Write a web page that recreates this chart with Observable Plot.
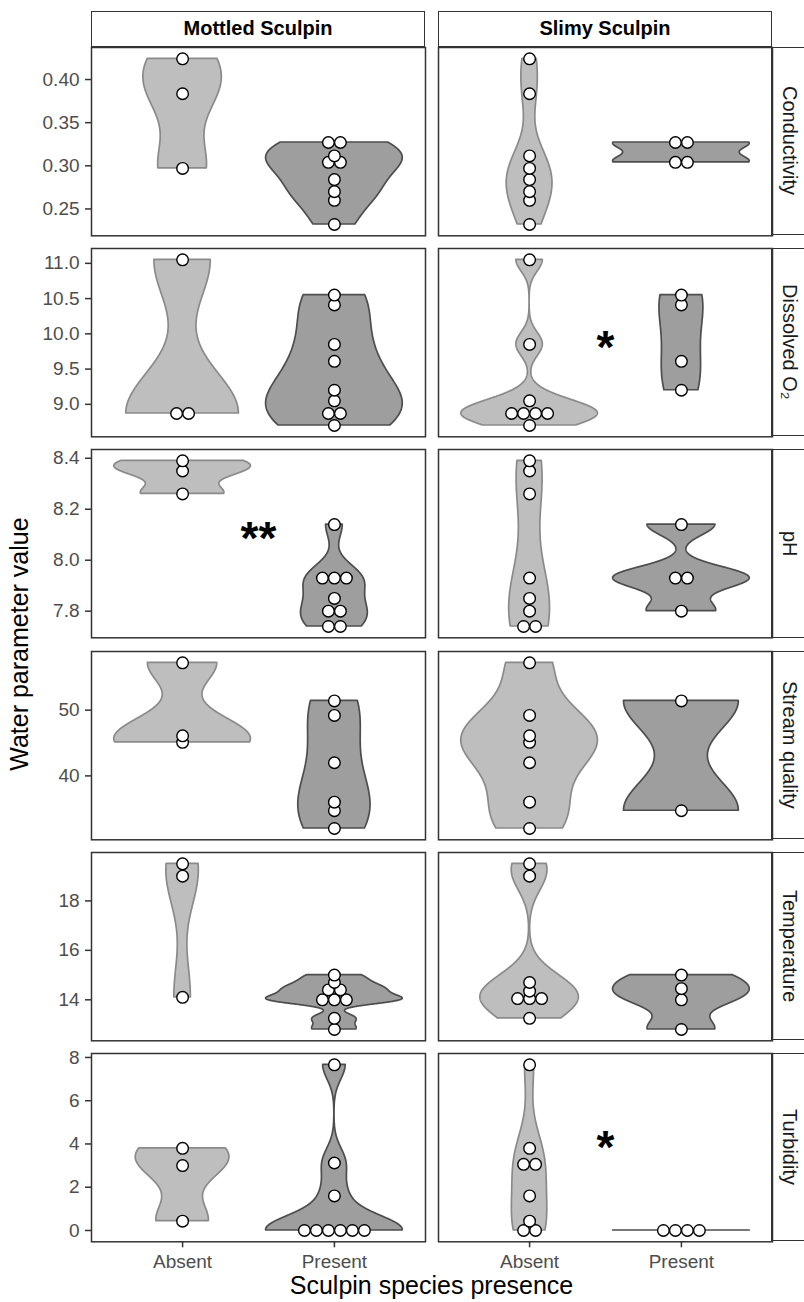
<!DOCTYPE html>
<html>
<head>
<meta charset="utf-8">
<script src="https://cdn.jsdelivr.net/npm/d3@7"></script>
<script src="https://cdn.jsdelivr.net/npm/@observablehq/plot@0.6"></script>
<style>
  body { margin: 0; background: #fff; }
  #fig { position: relative; width: 804px; height: 1302px; overflow: hidden; background: #fff;
         font-family: "Liberation Sans", Arial, Helvetica, sans-serif; }
  .strip-top { position: absolute; box-sizing: border-box; border: 1.5px solid #333; background: #fff;
               display: flex; align-items: center; justify-content: center;
               font-weight: bold; font-size: 20px; color: #000; }
  .strip-right { position: absolute; box-sizing: border-box; border: 1.5px solid #333; background: #fff;
                 display: flex; align-items: center; justify-content: center;
                 writing-mode: vertical-rl; font-size: 20px; color: #1a1a1a; }
  .panel { position: absolute; }
</style>
</head>
<body>
<div id="fig"></div>
<script>
// ---------------- data ----------------
const species = ["Mottled Sculpin", "Slimy Sculpin"];
const presence = ["Absent", "Present"];
const parameters = ["Conductivity", "Dissolved O₂", "pH", "Stream quality", "Temperature", "Turbidity"];

// presence of each sculpin species at the 12 sampled sites
const mottledPresence = ["Absent","Absent","Absent","Present","Present","Present","Present","Present","Present","Present","Present","Present"];
const slimyPresence   = ["Absent","Absent","Absent","Present","Present","Present","Present","Absent","Absent","Absent","Absent","Absent"];

// water parameter values per site
const conductivity  = [0.424, 0.3835, 0.297, 0.327, 0.327, 0.304, 0.304, 0.3115, 0.284, 0.270, 0.260, 0.232];
const dissolvedO2   = [11.05, 8.87, 8.87, 10.55, 10.41, 9.61, 9.20, 9.85, 9.05, 8.87, 8.87, 8.70];
const pH            = [8.39, 8.35, 8.26, 8.14, 7.93, 7.93, 7.80, 7.93, 7.85, 7.80, 7.74, 7.74];
const streamQuality = [57.2, 46.1, 45.1, 51.4, 34.7, null, null, 49.2, 42.0, 36.0, 32.0, null];
const temperature   = [19.5, 19.0, 14.1, 15.0, 14.45, 14.0, 12.8, 14.7, 14.35, 14.0, 14.0, 13.25];
const turbidity     = [3.8, 3.0, 0.43, 0, 0, 0, 0, 7.66, 3.12, 1.6, 0, 0];

// y tick values per parameter
const conductivityTicks  = [0.25, 0.30, 0.35, 0.40];
const dissolvedO2Ticks   = [9.0, 9.5, 10.0, 10.5, 11.0];
const pHTicks            = [7.8, 8.0, 8.2, 8.4];
const streamQualityTicks = [40, 50];
const temperatureTicks   = [14, 16, 18];
const turbidityTicks     = [0, 2, 4, 6, 8];
const tickFormats = [".2f", ".1f", ".1f", "d", "d", "d"];

// significance annotations
const sigSpecies   = ["Slimy Sculpin", "Mottled Sculpin", "Slimy Sculpin"];
const sigParameter = ["Dissolved O₂", "pH", "Turbidity"];
const sigLabel     = ["*", "**", "*"];
const sigValue     = [9.97, 8.13, 4.37];

const xTitle = "Sculpin species presence";
const yTitle = "Water parameter value";

// ---------------- layout ----------------
const panelLeft = [91, 438];
const panelW = 334;
const panelTop0 = 46.7;
const panelH = 188.3;
const gap = 13;
const stripTop = 10.5;
const stripRightW = 36;
const dotSpacingPx = 12;

const rowValues = [conductivity, dissolvedO2, pH, streamQuality, temperature, turbidity];
const rowTicks = [conductivityTicks, dissolvedO2Ticks, pHTicks, streamQualityTicks, temperatureTicks, turbidityTicks];
const presenceBySpecies = [mottledPresence, slimyPresence];

const fig = document.getElementById("fig");

// ---------------- helpers ----------------
function nrd0(x) {
  const hi = d3.deviation(x) || 0;
  let lo = Math.min(hi, (d3.quantile(x, 0.75) - d3.quantile(x, 0.25)) / 1.34);
  if (!lo) lo = hi || Math.abs(x[0]) || 1;
  return 0.9 * lo * Math.pow(x.length, -0.2);
}
function kde(x, n = 512) {
  const bw = nrd0(x);
  const lo = d3.min(x), hi = d3.max(x);
  const out = [];
  for (let j = 0; j < n; j++) {
    const y = lo + (hi - lo) * j / (n - 1);
    let s = 0;
    for (const v of x) { const u = (y - v) / bw; s += Math.exp(-0.5 * u * u); }
    out.push({y, density: s / (x.length * bw * Math.sqrt(2 * Math.PI))});
  }
  return out;
}
function dotBins(vals, bw) {
  const s = vals.slice().sort((a, b) => a - b);
  const bins = [];
  let i = 0;
  while (i < s.length) {
    const end = s[i] + bw;
    const m = [];
    while (i < s.length && s[i] < end) { m.push(s[i]); i++; }
    bins.push({center: (m[0] + m[m.length - 1]) / 2, n: m.length});
  }
  return bins;
}

// ---------------- strips ----------------
species.forEach((sp, c) => {
  const d = document.createElement("div");
  d.className = "strip-top";
  d.style.left = panelLeft[c] + "px";
  d.style.top = stripTop + "px";
  d.style.width = panelW + "px";
  d.style.height = (panelTop0 - stripTop + 0.75) + "px";
  d.textContent = sp;
  fig.appendChild(d);
});

// ---------------- panels ----------------
parameters.forEach((param, r) => {
  const vals = rowValues[r];
  const valid = vals.filter(v => v != null);
  const range = d3.max(valid) - d3.min(valid);
  const bw = range / 30;
  const top = panelTop0 + r * (panelH + gap);
  const isBottom = r === parameters.length - 1;

  const groups = species.map((sp, c) => presence.map((p, k) => {
    const g = vals.filter((v, i) => v != null && presenceBySpecies[c][i] === p);
    return {species: sp, presence: p, x: k + 1, values: g, bins: dotBins(g, bw)};
  }));

  let lo = Infinity, hi = -Infinity;
  groups.flat().forEach(g => g.bins.forEach(b => {
    lo = Math.min(lo, b.center - bw / 2);
    hi = Math.max(hi, b.center + bw / 2);
  }));
  const ex = (hi - lo) * 0.05;
  const yDomain = [lo - ex, hi + ex];

  const rs = document.createElement("div");
  rs.className = "strip-right";
  rs.style.left = (panelLeft[1] + panelW - 0.75) + "px";
  rs.style.top = top + "px";
  rs.style.width = stripRightW + "px";
  rs.style.height = panelH + "px";
  rs.textContent = param;
  fig.appendChild(rs);

  species.forEach((sp, c) => {
    const isLeft = c === 0;
    const pg = groups[c];
    const dens = pg.map(g => kde(g.values));
    const maxD = d3.max(dens.flat(), d => d.density);
    const violins = pg.map((g, k) => dens[k].map(d => ({
      presence: g.presence, y: d.y,
      x1: g.x - 0.45 * d.density / maxD,
      x2: g.x + 0.45 * d.density / maxD
    })));
    const unit = dotSpacingPx / (panelW / 2.2);
    const dots = [];
    pg.forEach(g => g.bins.forEach(b => {
      for (let i = 0; i < b.n; i++) dots.push({presence: g.presence, x: g.x + (i - (b.n - 1) / 2) * unit, y: b.center});
    }));
    const sig = sigLabel.map((l, i) => ({label: l, species: sigSpecies[i], parameter: sigParameter[i], value: sigValue[i]}))
      .filter(d => d.species === sp && d.parameter === param);

    const mb = isBottom ? 62 : 0;
    const ml = isLeft ? panelLeft[0] : 0;
    const plot = Plot.plot({
      width: ml + panelW,
      height: panelH + mb,
      marginLeft: ml, marginRight: 0, marginTop: 0, marginBottom: mb,
      style: {fontFamily: '"Liberation Sans", Arial, Helvetica, sans-serif', overflow: "visible", background: "transparent"},
      x: {domain: [0.4, 2.6], ...(isBottom ? {} : {axis: null})},
      y: {domain: yDomain, ...(isLeft ? {} : {axis: null})},
      marks: [
        Plot.areaX(violins[0], {y: "y", x1: "x1", x2: "x2", fill: "#bebebe", stroke: "#8a8a8a", strokeWidth: 1.7, strokeLinejoin: "round"}),
        Plot.areaX(violins[1], {y: "y", x1: "x1", x2: "x2", fill: "#9e9e9e", stroke: "#4d4d4d", strokeWidth: 1.7, strokeLinejoin: "round"}),
        Plot.dot(dots, {x: "x", y: "y", r: 5.8, fill: "white", stroke: "black", strokeWidth: 1.4}),
        Plot.text(sig, {x: 1.5, y: "value", text: "label", fontSize: 46, fontWeight: "bold", fill: "black", lineAnchor: "middle", dy: 12}),
        Plot.frame({stroke: "#333", strokeWidth: 1.5}),
        isLeft ? Plot.axisY(rowTicks[r], {tickFormat: d3.format(tickFormats[r]), tickSize: 6, tickPadding: 6,
                   fontSize: 19, fill: "#4d4d4d", stroke: "#333", strokeWidth: 1.5, label: null}) : null,
        isBottom ? Plot.axisX([1, 2], {tickFormat: d => presence[d - 1], tickSize: 6, tickPadding: 7,
                   fontSize: 19, fill: "#4d4d4d", stroke: "#333", strokeWidth: 1.5, label: null}) : null
      ]
    });
    plot.classList.add("panel");
    plot.style.left = (isLeft ? 0 : panelLeft[1]) + "px";
    plot.style.top = top + "px";
    plot.style.position = "absolute";
    fig.appendChild(plot);
  });
});

// ---------------- axis titles ----------------
const ns = "http://www.w3.org/2000/svg";
const over = document.createElementNS(ns, "svg");
over.setAttribute("width", 804);
over.setAttribute("height", 1302);
over.style.position = "absolute";
over.style.left = "0px";
over.style.top = "0px";
over.style.pointerEvents = "none";
over.style.fontFamily = '"Liberation Sans", Arial, Helvetica, sans-serif';
const yt = document.createElementNS(ns, "text");
yt.setAttribute("transform", `translate(27.5,${(panelTop0 + panelTop0 + 6 * panelH + 5 * gap) / 2}) rotate(-90)`);
yt.setAttribute("text-anchor", "middle");
yt.setAttribute("font-size", 25);
yt.textContent = yTitle;
over.appendChild(yt);
const xt = document.createElementNS(ns, "text");
xt.setAttribute("x", (panelLeft[0] + panelLeft[1] + panelW) / 2);
xt.setAttribute("y", 1294);
xt.setAttribute("text-anchor", "middle");
xt.setAttribute("font-size", 25);
xt.textContent = xTitle;
over.appendChild(xt);
fig.appendChild(over);
</script>
</body>
</html>
